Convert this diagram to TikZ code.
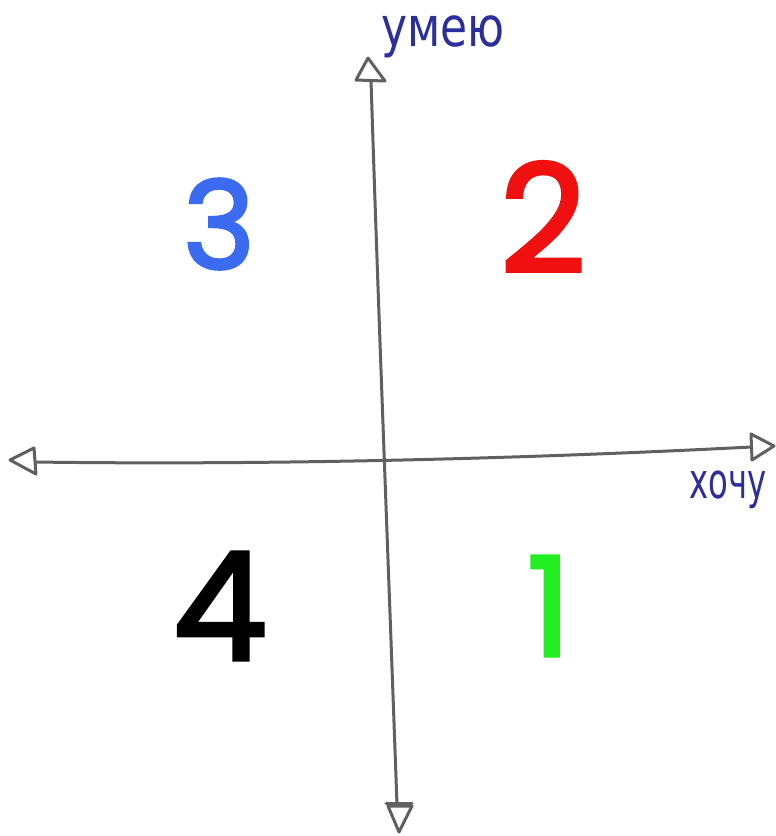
\documentclass[tikz,border=0pt]{standalone}
\usepackage{fontspec}
\setmainfont{Poppins}
\newfontfamily\numfont[FakeBold=2.5]{Poppins}
\newfontfamily\labfont{DejaVu Sans}
\definecolor{axisgray}{HTML}{606060}
\definecolor{labblue}{HTML}{2B2E9C}
\definecolor{numblue}{HTML}{3B6BF0}
\definecolor{numred}{HTML}{F01010}
\definecolor{numgreen}{HTML}{22EE22}
\begin{document}
\begin{tikzpicture}[x=1pt,y=-1pt,
  axis/.style={draw=axisgray,line width=3pt,line cap=round,line join=round},
  head/.style={draw=axisgray,line width=3pt,line join=round,fill=white},
  lab/.style={text=labblue,inner sep=0pt},
  num/.style={inner sep=0pt}]
\useasboundingbox (0,0) rectangle (776,836);
% axes
\coordinate (vtop) at (371,80);
\coordinate (vbot) at (397,805);
\coordinate (hleft) at (34,462);
\coordinate (hright) at (751,447);
\draw[axis] (vtop) .. controls (378,300) and (386,500) .. (vbot);
\draw[axis] (hleft) .. controls (250,465) and (500,460) .. (hright);
% arrowheads
\draw[head] (368,58) -- (356,80) -- (385,81) -- cycle;
\draw[axis] (386,803) -- (412,803);
\draw[head] (399,832) -- (388,806) -- (412,806) -- cycle;
\draw[head] (10,460) -- (34,448) -- (36,474) -- cycle;
\draw[head] (774,446) -- (751,434) -- (752,460) -- cycle;
% labels
\node[lab] (umeyu) at (443,37) {\scalebox{1.0}[1.25]{\labfont\fontsize{44}{44}\selectfont умею}};
\node[lab] (hochu) at (728,490) {\scalebox{0.95}[1.45]{\labfont\fontsize{34}{34}\selectfont хочу}};
% numbers
\node[num,text=numblue,font=\numfont\fontsize{122}{122}\selectfont] (n3) at (219,224) {3};
\node[num,text=numred,font=\numfont\fontsize{150}{150}\selectfont] (n2) at (543,217) {2};
\node[num,text=black,font=\numfont\fontsize{150}{150}\selectfont] (n4) at (220,606) {4};
\node[num,text=numgreen,font=\numfont\fontsize{138}{138}\selectfont] (n1) at (549,606) {1};
\end{tikzpicture}
\end{document}
